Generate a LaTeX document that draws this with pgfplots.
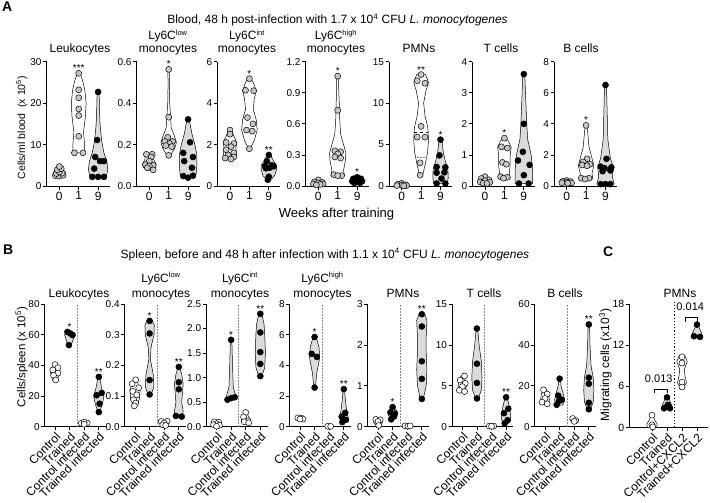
\documentclass[border=0pt]{standalone}
\usepackage{pgfplots}
\pgfplotsset{compat=1.18}
\usepackage{fontspec}
\setmainfont{Liberation Sans}
\definecolor{ptg}{gray}{0.78}
\definecolor{vg}{gray}{0.86}
\newcommand\tk{\fontsize{10}{12}\selectfont}
\newcommand\rk{\fontsize{12}{13}\selectfont}
\newcommand\xk{\fontsize{12}{14}\selectfont}
\newcommand\ttl{\fontsize{12}{14}\selectfont}
\newcommand\sps[1]{\textsuperscript{\fontsize{7.5}{8}\selectfont #1}}
\newcommand\vio[3]{%
  \gdef\vR{}\gdef\vL{}%
  \foreach \yy/\ww in {#3}{%
    \pgfmathsetmacro\xa{#1+\ww}%
    \pgfmathsetmacro\xb{#1-\ww}%
    \xdef\vR{\vR(\xa,\yy)}%
    \xdef\vL{(\xb,\yy)\vL}%
  }%
  \edef\vT{\noexpand\addplot[#2] coordinates {\vR\vL} -- cycle;}%
  \vT}
\pgfplotsset{
 prism/.style={scale only axis, clip=false,
   axis x line*=bottom, axis y line*=left,
   axis line style={-, line width=0.8pt},
   tick style={black, line width=0.8pt},
   tick align=outside, major tick length=3.5pt,
   ymin=0,
   yticklabel style={font=\tk, inner sep=1.5pt},
   /pgf/number format/assume math mode=true},
 pA/.style={prism, width=63.05pt, height=124.3pt, xmin=-0.65, xmax=2.6,
   xtick={0,1,2}, xticklabels={0,1,9}, xticklabel style={font=\xk, inner sep=2pt}},
 pB/.style={prism, width=61.32pt, height=122.7pt, xmin=-0.7, xmax=3.5,
   xtick={0,1,2,3}, xticklabels={Control,Trained,Control infected,Trained infected},
   xticklabel style={font=\rk, rotate=45, anchor=north east, inner sep=1pt}},
 wv/.style={fill=white, draw=black, line width=0.5pt, line join=round},
 gv/.style={fill=vg, draw=black, line width=0.5pt, line join=round},
 gp/.style={only marks, mark=*, mark size=3pt, mark options={fill=ptg, draw=black, line width=0.5pt}},
 bp/.style={only marks, mark=*, mark size=3pt, mark options={fill=black, draw=black, line width=0.5pt}},
 wp/.style={only marks, mark=*, mark size=3pt, mark options={fill=white, draw=black, line width=0.5pt}},
 sep/.style={densely dotted, black!45, line width=0.5pt},
}
\tikzset{ast/.style={anchor=base, yshift=1.5pt, inner sep=0pt, font=\tk}}
\begin{document}
\begin{tikzpicture}
\useasboundingbox (0pt,0pt) rectangle (710pt,-503pt);
% ================= PANEL A =================
\begin{axis}[pA, at={(46.7pt,-186pt)}, ymax=30, ytick={0,10,20,30}]
\vio{0}{wv}{2.3/0.12,2.7/0.3,3.2/0.33,3.8/0.2,4.7/0.05}
\vio{1}{wv}{8/0.3,10/0.3,13/0.25,17/0.35,20/0.38,23/0.32,25.5/0.2,27.2/0.07}
\vio{2}{gv}{2.2/0.42,4/0.5,6/0.45,8/0.3,11/0.18,15/0.1,19/0.07,22.7/0.05}
\addplot[gp] coordinates {(-0.2,2.5)(0,2.4)(0.2,2.6)(-0.15,3.0)(0.15,3.1)(0,3.4)(-0.1,3.9)(0.1,4.2)(0,4.7)};
\addplot[gp] coordinates {(0.78,8.0)(1.22,8.0)(1,12)(1,17)(1,18.6)(1,21.3)(1,23.2)(1,27.2)};
\addplot[bp] coordinates {(1.7,2.2)(2,2.2)(2.3,2.2)(1.8,4.2)(2.1,6)(2.3,6)(1.85,7)(1.95,11.1)(2,22.7)};
\node[ast] at (axis cs:1,27.2) {***};
\end{axis}
\begin{axis}[pA, at={(136.7pt,-186pt)}, ymax=0.6, ytick={0,0.2,0.4,0.6}, yticklabels={0.0,0.2,0.4,0.6}]
\vio{0}{wv}{0.077/0.1,0.09/0.3,0.105/0.35,0.13/0.22,0.155/0.18}
\vio{1}{wv}{0.148/0.08,0.18/0.3,0.21/0.4,0.24/0.3,0.28/0.13,0.33/0.1,0.4/0.05,0.5/0.03,0.563/0.05}
\vio{2}{gv}{0.04/0.3,0.06/0.42,0.1/0.45,0.15/0.45,0.2/0.35,0.25/0.2,0.3/0.1,0.322/0.05}
\addplot[gp] coordinates {(-0.15,0.153)(0.15,0.153)(0.1,0.14)(0,0.12)(-0.2,0.103)(0.2,0.1)(0,0.097)(-0.1,0.088)(0.2,0.078)};
\addplot[gp] coordinates {(1,0.563)(1,0.332)(0.95,0.235)(0.8,0.215)(1.2,0.215)(1.05,0.205)(0.85,0.195)(1.15,0.19)(1,0.148)};
\addplot[bp] coordinates {(2,0.322)(2.1,0.211)(1.75,0.16)(2.25,0.14)(1.8,0.12)(2.2,0.088)(1.75,0.048)(2.25,0.05)(2,0.04)};
\node[ast] at (axis cs:1,0.563) {*};
\end{axis}
\begin{axis}[pA, at={(217.4pt,-186pt)}, ymax=6, ytick={0,2,4,6}]
\vio{0}{wv}{1.3/0.25,1.5/0.35,1.8/0.3,2.1/0.35,2.4/0.2,2.7/0.08}
\vio{1}{wv}{1.8/0.05,2.2/0.25,2.7/0.4,3.2/0.35,3.7/0.2,4.2/0.25,4.6/0.35,5.0/0.2,5.2/0.05}
\vio{2}{gv}{0.3/0.1,0.5/0.3,0.8/0.4,1.0/0.4,1.2/0.25,1.5/0.08}
\addplot[gp] coordinates {(0,2.7)(0,2.5)(-0.2,2.1)(0.2,2.05)(0.05,1.9)(-0.2,1.75)(0.2,1.6)(-0.1,1.5)(0.2,1.4)(-0.25,1.35)(0.05,1.3)};
\addplot[gp] coordinates {(1,5.18)(0.8,4.62)(1.22,4.6)(0.9,3.3)(1.18,3.0)(0.85,2.7)(1.15,2.65)(1,1.8)};
\addplot[bp] coordinates {(2,1.5)(1.9,1.2)(2.15,1.0)(1.8,0.95)(2.25,0.95)(2.05,0.88)(1.85,0.85)(2,0.45)(1.95,0.3)};
\node[ast] at (axis cs:1,5.18) {*};
\node[ast] at (axis cs:2,1.5) {**};
\end{axis}
\begin{axis}[pA, at={(305.7pt,-186pt)}, ymax=1.2, ytick={0,0.3,0.6,0.9,1.2}, yticklabels={0.0,0.3,0.6,0.9,1.2}]
\vio{0}{wv}{0.005/0.2,0.02/0.35,0.04/0.25,0.065/0.05}
\vio{1}{wv}{0.1/0.35,0.15/0.3,0.25/0.4,0.32/0.42,0.4/0.3,0.5/0.15,0.65/0.1,0.8/0.08,0.95/0.05,1.06/0.05}
\vio{2}{gv}{0.025/0.3,0.05/0.42,0.085/0.2}
\addplot[gp] coordinates {(0,0.06)(-0.2,0.04)(0.2,0.035)(0,0.03)(-0.25,0.02)(0.25,0.02)(0.1,0.015)(-0.1,0.01)};
\addplot[gp] coordinates {(1,1.06)(1,0.73)(0.85,0.34)(1.15,0.33)(1,0.31)(0.85,0.28)(1.15,0.27)(0.8,0.11)(1.2,0.1)(1,0.1)};
\addplot[bp] coordinates {(2,0.085)(1.8,0.07)(2.2,0.07)(1.9,0.06)(2.1,0.055)(1.75,0.045)(2.25,0.045)(2,0.04)(1.85,0.03)(2.15,0.03)};
\node[ast] at (axis cs:1,1.06) {*};
\node[ast] at (axis cs:2,0.085) {*};
\end{axis}
\begin{axis}[pA, at={(389.1pt,-186pt)}, ymax=15, ytick={0,5,10,15}]
\vio{0}{wv}{0.02/0.2,0.1/0.35,0.2/0.2,0.32/0.05}
\vio{1}{wv}{1.3/0.08,2.5/0.2,4/0.33,5.5/0.38,7/0.35,8.5/0.2,10/0.13,11.5/0.25,12.5/0.38,13.5/0.22}
\vio{2}{gv}{0.3/0.35,1/0.4,2/0.38,3/0.25,4/0.15,5/0.1,5.6/0.08}
\addplot[black, dashed, line width=0.5pt] coordinates {(0.63,6.5)(1.37,6.5)};
\addplot[black!50, densely dotted, line width=0.5pt] coordinates {(0.7,3.5)(1.3,3.5)};
\addplot[gp] coordinates {(0,0.32)(-0.2,0.2)(0.2,0.15)(0,0.1)(-0.25,0.05)(0.25,0.05)(0.1,0.02)};
\addplot[gp] coordinates {(1,13.45)(0.8,12.7)(1.2,12.4)(1,7.2)(0.8,5.9)(1.2,5.9)(0.95,2.8)(0.95,1.3)};
\addplot[bp] coordinates {(2,5.6)(1.95,3.7)(1.8,2.3)(2.25,2.25)(2.2,1.65)(1.8,1.6)(2.05,0.9)(1.8,0.3)(2.25,0.3)};
\node[ast] at (axis cs:1,13.45) {**};
\node[ast] at (axis cs:2,5.6) {*};
\end{axis}
\begin{axis}[pA, at={(472.4pt,-186pt)}, ymax=4, ytick={0,1,2,3,4}]
\vio{0}{wv}{0.08/0.25,0.15/0.35,0.22/0.2,0.3/0.05}
\vio{1}{wv}{0.25/0.3,0.4/0.25,0.7/0.3,1.0/0.3,1.25/0.35,1.45/0.2,1.55/0.05}
\vio{2}{gv}{0.08/0.45,0.5/0.45,1.0/0.38,1.5/0.2,2.0/0.15,2.8/0.1,3.6/0.05}
\addplot[gp] coordinates {(0,0.3)(-0.2,0.24)(0.2,0.2)(0,0.17)(-0.25,0.13)(0.25,0.12)(-0.1,0.09)(0.1,0.08)};
\addplot[gp] coordinates {(1,1.54)(0.85,1.26)(1.15,1.22)(0.9,0.76)(1.1,0.7)(0.8,0.3)(1.15,0.28)(0.95,0.25)};
\addplot[bp] coordinates {(2,3.6)(2,2.0)(1.95,1.1)(1.7,0.82)(2.3,0.68)(2,0.35)(1.75,0.08)(2.25,0.08)};
\node[ast] at (axis cs:1,1.54) {*};
\end{axis}
\begin{axis}[pA, at={(554.1pt,-186pt)}, ymax=8, ytick={0,2,4,6,8}]
\vio{0}{wv}{0.15/0.25,0.25/0.35,0.35/0.05}
\vio{1}{wv}{0.45/0.35,0.8/0.3,1.3/0.4,1.8/0.3,2.5/0.15,3.2/0.1,3.9/0.05}
\vio{2}{gv}{0.12/0.45,0.6/0.35,1.2/0.4,1.8/0.25,3/0.12,5/0.08,6.5/0.05}
\addplot[gp] coordinates {(0,0.35)(-0.2,0.3)(0.2,0.28)(0,0.25)(-0.25,0.21)(0.25,0.2)(0.05,0.18)};
\addplot[gp] coordinates {(1,3.9)(1.05,1.75)(0.85,1.55)(1.2,1.4)(0.8,1.35)(1.05,1.3)(0.75,0.5)(1.15,0.5)(0.95,0.45)};
\addplot[bp] coordinates {(2,6.5)(2.05,1.75)(1.75,1.25)(2.3,1.2)(1.95,1.15)(2.25,1.0)(1.85,0.95)(1.75,0.12)(2,0.12)(2.25,0.12)};
\node[ast] at (axis cs:1,3.9) {*};
\end{axis}
% ================= PANEL B =================
\begin{axis}[pB, at={(44.8pt,-426.7pt)}, ymax=80, ytick={0,20,40,60,80}]
\addplot[sep] coordinates {(1.5,0)(1.5,80)};
\vio{0}{wv}{30/0.15,35/0.3,40.5/0.1}
\vio{1}{gv}{53/0.1,57/0.25,60/0.35,61.8/0.2}
\vio{2}{wv}{1.5/0.3,2.5/0.35,3.2/0.1}
\vio{3}{gv}{9.5/0.05,15/0.25,20/0.35,25/0.2,30/0.1,32.5/0.05}
\addplot[wp] coordinates {(0,40.5)(0.2,38.5)(-0.15,37)(0.2,35)(-0.1,33.5)(0.05,30.5)};
\addplot[bp] coordinates {(0.85,61.8)(1.05,60.8)(1.2,59.8)(0.95,53.2)};
\addplot[wp] coordinates {(1.8,2.2)(2.2,2.4)(2,3.0)(2,1.6)};
\addplot[bp] coordinates {(3,32.5)(3.2,22)(2.85,20.5)(3.05,15)(3,9.5)};
\node[ast] at (axis cs:1,61.8) {*};
\node[ast] at (axis cs:3,32.5) {**};
\end{axis}
\begin{axis}[pB, at={(124.8pt,-426.7pt)}, ymax=0.4, ytick={0,0.1,0.2,0.3,0.4}, yticklabels={0.0,0.1,0.2,0.3,0.4}]
\addplot[sep] coordinates {(1.5,0)(1.5,0.4)};
\vio{0}{wv}{0.068/0.1,0.09/0.3,0.12/0.35,0.155/0.1}
\vio{1}{gv}{0.105/0.1,0.13/0.3,0.17/0.25,0.22/0.05,0.26/0.1,0.3/0.3,0.33/0.32,0.345/0.2}
\vio{2}{wv}{0.004/0.1,0.012/0.3,0.02/0.2}
\vio{3}{gv}{0.033/0.25,0.05/0.3,0.08/0.2,0.11/0.25,0.14/0.3,0.17/0.2,0.195/0.05}
\addplot[wp] coordinates {(0.05,0.153)(-0.2,0.14)(0.25,0.127)(-0.15,0.115)(0.12,0.104)(-0.1,0.088)(0.05,0.077)(-0.05,0.068)};
\addplot[bp] coordinates {(1,0.345)(1,0.304)(1,0.152)(1,0.105)};
\addplot[wp] coordinates {(1.8,0.017)(2.2,0.018)(2,0.012)(1.9,0.006)(2.1,0.004)};
\addplot[bp] coordinates {(3,0.195)(3,0.145)(3,0.122)(2.8,0.035)(3.2,0.033)};
\node[ast] at (axis cs:1,0.345) {*};
\node[ast] at (axis cs:3,0.195) {**};
\end{axis}
\begin{axis}[pB, at={(206.3pt,-426.7pt)}, ymax=2.5, ytick={0,0.5,1,1.5,2,2.5}, yticklabels={0.0,0.5,1.0,1.5,2.0,2.5}]
\addplot[sep] coordinates {(1.5,0)(1.5,2.5)};
\vio{0}{wv}{0.01/0.25,0.06/0.3,0.1/0.15}
\vio{1}{gv}{0.55/0.3,0.65/0.3,0.8/0.15,1.2/0.1,1.77/0.05}
\vio{2}{wv}{0.08/0.25,0.15/0.3,0.29/0.05}
\vio{3}{gv}{1.03/0.1,1.2/0.3,1.5/0.35,1.9/0.3,2.1/0.25,2.3/0.1}
\addplot[wp] coordinates {(-0.15,0.1)(0.15,0.09)(0,0.06)(-0.2,0.04)(0.2,0.03)(0,0.01)};
\addplot[bp] coordinates {(0.75,0.55)(1,0.58)(1.25,0.6)(1,1.77)};
\addplot[wp] coordinates {(2,0.29)(1.85,0.2)(2.15,0.12)(1.9,0.1)(2.2,0.08)};
\addplot[bp] coordinates {(3,2.3)(3,1.92)(3,1.52)(3,1.28)(3,1.03)};
\node[ast] at (axis cs:1,1.77) {*};
\node[ast] at (axis cs:3,2.3) {**};
\end{axis}
\begin{axis}[pB, at={(289.8pt,-426.7pt)}, ymax=8, ytick={0,2,4,6,8}]
\addplot[sep] coordinates {(1.5,0)(1.5,8)};
\vio{0}{wv}{0.45/0.3,0.6/0.25}
\vio{1}{gv}{2.55/0.05,3.5/0.15,4.5/0.35,5.2/0.3,5.85/0.1}
\vio{2}{wv}{0.0/0.2,0.05/0.1}
\vio{3}{gv}{0.3/0.2,0.6/0.3,1.0/0.2,1.8/0.1,2.45/0.05}
\addplot[wp] coordinates {(-0.15,0.58)(0.1,0.55)(0.2,0.5)(0,0.5)};
\addplot[bp] coordinates {(1,5.85)(0.8,4.75)(1.15,4.55)(1,2.55)};
\addplot[wp] coordinates {(1.9,0.03)(2.1,0.02)};
\addplot[bp] coordinates {(3,2.45)(3.1,0.9)(2.85,0.65)(3.15,0.45)(2.9,0.3)};
\node[ast] at (axis cs:1,5.85) {*};
\node[ast] at (axis cs:3,2.45) {**};
\end{axis}
\begin{axis}[pB, at={(367.8pt,-426.7pt)}, ymax=3, ytick={0,1,2,3}]
\addplot[sep] coordinates {(1.5,0)(1.5,3)};
\vio{0}{wv}{0.02/0.1,0.1/0.3,0.19/0.2}
\vio{1}{gv}{0.18/0.1,0.28/0.3,0.38/0.3,0.48/0.1}
\vio{2}{wv}{0.0/0.2,0.03/0.15}
\vio{3}{gv}{0.68/0.1,1.0/0.3,1.4/0.35,1.8/0.3,2.2/0.3,2.6/0.35,2.75/0.2}
\addplot[wp] coordinates {(-0.15,0.18)(0.15,0.17)(0,0.13)(0.05,0.03)};
\addplot[bp] coordinates {(1,0.48)(0.85,0.35)(1.15,0.32)(1.1,0.25)(0.9,0.18)};
\addplot[wp] coordinates {(1.85,0.02)(2.05,0.01)(2.2,0.02)};
\addplot[bp] coordinates {(3,2.75)(3,2.45)(3,1.6)(3,1.17)(3,0.68)};
\node[ast] at (axis cs:1,0.48) {*};
\node[ast] at (axis cs:3,2.75) {**};
\end{axis}
\begin{axis}[pB, at={(452.1pt,-426.7pt)}, ymax=15, ytick={0,5,10,15}]
\addplot[sep] coordinates {(1.5,0)(1.5,15)};
\vio{0}{wv}{4.3/0.15,5/0.3,6.2/0.1}
\vio{1}{gv}{3.45/0.1,4.5/0.3,6/0.35,8/0.3,10/0.15,12/0.05}
\vio{2}{wv}{0.0/0.2,0.1/0.3,0.15/0.1}
\vio{3}{gv}{0.42/0.15,0.8/0.3,1.5/0.3,2.2/0.25,3/0.15,3.6/0.05}
\addplot[wp] coordinates {(0.15,6.2)(-0.15,5.7)(0.2,5.3)(0,4.9)(-0.2,4.45)(0.15,4.3)};
\addplot[bp] coordinates {(1,12)(1,7.7)(1,5.35)(1,3.45)};
\addplot[wp] coordinates {(1.85,0.08)(2.15,0.07)(2,0.05)};
\addplot[bp] coordinates {(3,3.6)(3.15,2.2)(2.85,1.65)(3.1,0.8)(2.9,0.42)};
\node[ast] at (axis cs:3,3.6) {**};
\end{axis}
\begin{axis}[pB, at={(534.8pt,-426.7pt)}, ymax=60, ytick={0,20,40,60}]
\addplot[sep] coordinates {(1.5,0)(1.5,60)};
\vio{0}{wv}{11/0.2,13/0.3,16/0.25,18/0.1}
\vio{1}{gv}{10.5/0.2,13/0.35,16/0.25,20/0.1,23.5/0.05}
\vio{2}{wv}{2.5/0.2,3.5/0.3,4.2/0.1}
\vio{3}{gv}{8.5/0.1,12/0.3,18/0.35,24/0.3,30/0.15,40/0.08,50/0.05}
\addplot[wp] coordinates {(-0.1,18)(0.15,16)(0,13.8)(-0.2,12)(0.15,11.2)};
\addplot[bp] coordinates {(1,23.5)(0.9,15.2)(1.15,13.2)(0.95,12.5)(0.8,10.7)};
\addplot[wp] coordinates {(1.9,4.0)(2.1,3.0)(2,2.6)};
\addplot[bp] coordinates {(3,50)(3,24)(3,21)(3,11.7)(3,8.5)};
\node[ast] at (axis cs:3,50) {**};
\end{axis}
% ================= PANEL C =================
\begin{axis}[prism, at={(629.5pt,-427.5pt)}, width=78.75pt, height=123.5pt, xmin=-1.5, xmax=3.75, ymax=18, ytick={0,6,12,18},
   yticklabel style={font=\fontsize{10.5}{12}\selectfont},
   xtick={0,1,2,3}, xticklabels={Control,Trained,Control+CXCL2,Trained+CXCL2},
   xticklabel style={font=\rk, rotate=45, anchor=north east, inner sep=1pt}]
\addplot[black, dotted, line width=1.2pt] coordinates {(1.5,0)(1.5,18.3)};
\vio{0}{wv}{0.0/0.3,0.5/0.35,1.2/0.15,1.9/0.1}
\vio{1}{gv}{2.7/0.35,3.3/0.3,3.8/0.2,4.45/0.1}
\vio{2}{wv}{5.9/0.1,6.5/0.3,7.5/0.2,8.5/0.15,9.6/0.35,10.4/0.2}
\vio{3}{gv}{13.2/0.35,13.8/0.3,14.5/0.15,15.0/0.05}
\addplot[wp] coordinates {(0,1.8)(0,0.4)(0.05,0.1)};
\addplot[bp] coordinates {(1,4.4)(1.05,3.3)(0.8,2.8)(1.2,2.8)};
\addplot[wp] coordinates {(2,10.3)(2,9.4)(2,6.6)(2,5.9)};
\addplot[bp] coordinates {(3,15)(2.8,13.3)(3.2,13.2)};
\addplot[black, line width=0.8pt] coordinates {(0.15,5.0)(0.15,5.6)(1,5.6)(1,5.0)};
\addplot[black, line width=0.8pt] coordinates {(2.2,15.4)(2.2,16.05)(3.05,16.05)(3.05,15.4)};
\node[anchor=base, inner sep=0pt, font=\fontsize{11}{13}\selectfont] at (axis cs:0.45,6.5) {0.013};
\node[anchor=base, inner sep=0pt, font=\fontsize{11}{13}\selectfont] at (axis cs:2.55,17.0) {0.014};
\end{axis}
% ================= TEXT =================
\node[anchor=north west, inner sep=0pt, font=\fontsize{14}{16}\selectfont\bfseries] at (2pt,-2pt) {A};
\node[anchor=north west, inner sep=0pt, font=\fontsize{14}{16}\selectfont\bfseries] at (3pt,-245pt) {B};
\node[anchor=north west, inner sep=0pt, font=\fontsize{14}{16}\selectfont\bfseries] at (603pt,-246.5pt) {C};
\node[anchor=base, inner sep=0pt, font=\ttl] at (337.5pt,-24pt) {Blood, 48 h post-infection with 1.7 x 10\textsuperscript{4} CFU \textit{L. monocytogenes}};
\node[anchor=base, inner sep=0pt, font=\ttl] at (325pt,-258pt) {Spleen, before and 48 h after infection with 1.1 x 10\textsuperscript{4} CFU \textit{L. monocytogenes}};
% panel A subplot titles
\begin{scope}[every node/.style={anchor=base, inner sep=0pt, font=\ttl}]
\node at (80pt,-53pt) {Leukocytes};
\node at (168pt,-40pt) {Ly6C\sps{low}};
\node at (168pt,-53pt) {monocytes};
\node at (247pt,-40pt) {Ly6C\sps{int}};
\node at (247pt,-53pt) {monocytes};
\node at (336pt,-40pt) {Ly6C\sps{high}};
\node at (336pt,-53pt) {monocytes};
\node at (419pt,-53pt) {PMNs};
\node at (501pt,-53pt) {T cells};
\node at (581pt,-53pt) {B cells};
\node[font=\fontsize{13}{15}\selectfont] at (336.5pt,-217.6pt) {Weeks after training};
% panel B titles
\node at (79pt,-297pt) {Leukocytes};
\node at (161pt,-282pt) {Ly6C\sps{low}};
\node at (161pt,-297pt) {monocytes};
\node at (240pt,-282pt) {Ly6C\sps{int}};
\node at (240pt,-297pt) {monocytes};
\node at (322.5pt,-282pt) {Ly6C\sps{high}};
\node at (322.5pt,-297pt) {monocytes};
\node at (403pt,-297pt) {PMNs};
\node at (484pt,-297pt) {T cells};
\node at (565pt,-297pt) {B cells};
\node at (680pt,-297pt) {PMNs};
\end{scope}
\node[rotate=90, inner sep=0pt, font=\fontsize{10.5}{12}\selectfont] at (21.7pt,-127.8pt) {Cells/ml blood\ \ (x 10\textsuperscript{5})};
\node[rotate=90, inner sep=0pt, font=\fontsize{11.5}{13}\selectfont] at (21.7pt,-357pt) {Cells/spleen (x 10\textsuperscript{5})};
\node[rotate=90, inner sep=0pt, font=\fontsize{12}{14}\selectfont] at (605.5pt,-365pt) {Migrating cells (x10\textsuperscript{3})};
\end{tikzpicture}
\end{document}
